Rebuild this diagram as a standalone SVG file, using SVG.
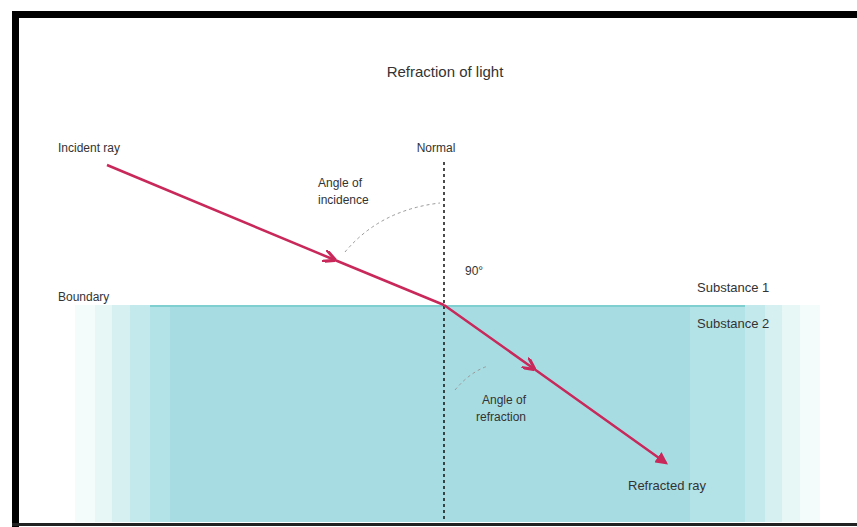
<svg xmlns="http://www.w3.org/2000/svg" width="857" height="527" viewBox="0 0 857 527">
<style>
text{font-family:"Liberation Sans",Arial,sans-serif;fill:#333;font-size:12px}
.big{font-size:13px}
.title{font-size:15px}
.ray{stroke:#c8285a;stroke-width:2.5;fill:none}
.dash{stroke:#999;stroke-width:1;stroke-dasharray:3,3;fill:none}
</style>
<defs>
<marker id="ah" viewBox="0 0 10 10" refX="8" refY="5" markerWidth="5" markerHeight="5" orient="auto"><path d="M0,0 L10,5 L0,10 z" fill="#c8285a"/></marker>
<marker id="mid" viewBox="0 0 10 10" refX="5" refY="5" markerWidth="5" markerHeight="5" orient="auto"><path d="M0,0 L10,5 L0,10" fill="none" stroke="#c8285a" stroke-width="2.5"/></marker>
</defs>
<rect width="857" height="527" fill="#fff"/>
<g id="frame">
<rect x="12" y="11" width="845" height="7" fill="#000"/>
<rect x="12" y="11" width="7" height="516" fill="#000"/>
<rect x="12" y="523" width="845" height="3" fill="#222"/>
</g>
<g id="water">
<rect x="75" y="305" width="745" height="217" fill="#f3fbfb"/>
<rect x="95" y="305" width="705" height="217" fill="#e6f7f6"/>
<rect x="112" y="305" width="670" height="217" fill="#d6f0f2"/>
<rect x="130" y="305" width="635" height="217" fill="#c4e9ec"/>
<rect x="150" y="305" width="595" height="217" fill="#b4e3e7"/>
<rect x="170" y="305" width="520" height="217" fill="#a8dce3"/>
<line x1="150" y1="306" x2="745" y2="306" stroke="#7fcfd0" stroke-width="2"/>
</g>
<g id="connectors">
<line x1="444" y1="162" x2="444" y2="522" stroke="#111" stroke-width="1.5" stroke-dasharray="3,3"/>
<path class="dash" d="M345,252 Q380,210 440,203"/>
<path class="dash" d="M455,390 Q470,372 488,366"/>
<path class="ray" d="M107,165 L330,258 L444,305" marker-mid="url(#mid)"/>
<path class="ray" d="M444,305 L530,366 L666,463" marker-mid="url(#mid)" marker-end="url(#ah)"/>
</g>
<g id="title"><text class="title" x="445" y="77" text-anchor="middle">Refraction of light</text></g>
<g id="incident-label"><text x="58" y="152">Incident ray</text></g>
<g id="normal-label"><text x="436" y="152" text-anchor="middle">Normal</text></g>
<g id="angle-incidence"><text x="318" y="187">Angle of</text><text x="318" y="204">incidence</text></g>
<g id="ninety"><text x="465" y="275">90°</text></g>
<g id="boundary"><text x="58" y="301">Boundary</text></g>
<g id="substance1"><text class="big" x="697" y="292">Substance 1</text></g>
<g id="substance2"><text class="big" x="697" y="328">Substance 2</text></g>
<g id="angle-refraction"><text x="482" y="404">Angle of</text><text x="476" y="421">refraction</text></g>
<g id="refracted-label"><text class="big" x="628" y="490">Refracted ray</text></g>
</svg>
